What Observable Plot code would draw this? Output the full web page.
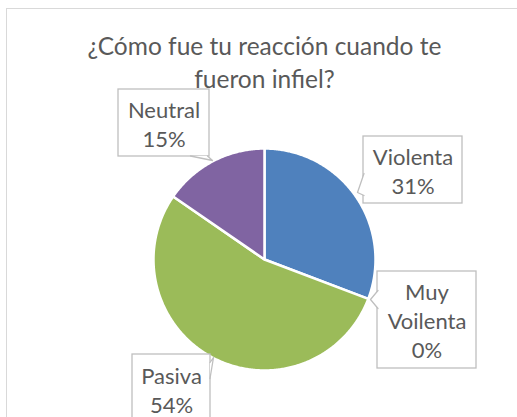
<!DOCTYPE html>
<html>
<head>
<meta charset="utf-8">
<script src="https://cdn.jsdelivr.net/npm/d3@7"></script>
<script src="https://cdn.jsdelivr.net/npm/@observablehq/plot@0.6"></script>
<style>
  html, body { margin: 0; padding: 0; background: #fff; overflow: hidden; }
</style>
</head>
<body>
<div id="chart"></div>
<script>
// ---- data ----
const categories = ["Violenta", "Muy Voilenta", "Pasiva", "Neutral"];
const counts = [4, 0, 7, 2];
const colors = ["#4F81BD", "#C0504D", "#9BBB59", "#8064A2"];
const titleLines = ["¿Cómo fue tu reacción cuando te", "fueron infiel?"];

// ---- layout (pixels) ----
const W = 517, H = 417;
const pieLayout = {cx: 264, cy: 259, r: 111};
const labelBoxes = [
  {x1: 363, x2: 462, y1: 136, y2: 203, tail: {side: "left", a: 173, b: 195, tx: 357, ty: 192}},
  {x1: 377, x2: 476, y1: 271, y2: 368, tail: {side: "left", a: 290, b: 308, tx: 370, ty: 299}},
  {x1: 132, x2: 210, y1: 354, y2: 424, tail: {side: "right", a: 362, b: 378, tx: 213, ty: 357}},
  {x1: 118, x2: 209, y1: 89, y2: 156, tail: {side: "bottom", a: 190, b: 207, tx: 212, ty: 160}}
];
const titleY = [47, 80];

const total = d3.sum(counts);
const pieGen = d3.pie().sort(null).value(d => d.value);
const arcs = pieGen(categories.map((c, i) => ({cat: c, value: counts[i]})));

// slice polygons in pixel space
const slicePts = [];
for (const a of arcs) {
  if (a.endAngle - a.startAngle <= 0) continue;
  const cat = a.data.cat;
  slicePts.push({cat, x: pieLayout.cx, y: pieLayout.cy});
  const n = Math.max(2, Math.ceil((a.endAngle - a.startAngle) / 0.01));
  for (let k = 0; k <= n; k++) {
    const t = a.startAngle + (a.endAngle - a.startAngle) * k / n;
    slicePts.push({cat, x: pieLayout.cx + pieLayout.r * Math.sin(t), y: pieLayout.cy - pieLayout.r * Math.cos(t)});
  }
  slicePts.push({cat, x: pieLayout.cx, y: pieLayout.cy});
}

const labels = categories.map((c, i) => ({
  text: c.split(" ").join("\n") + "\n" + Math.round(counts[i] / total * 100) + "%",
  x: (labelBoxes[i].x1 + labelBoxes[i].x2) / 2,
  y: (labelBoxes[i].y1 + labelBoxes[i].y2) / 2
}));

// callout tails
const tails = [];
labelBoxes.forEach((b, i) => {
  const t = b.tail;
  let p;
  if (t.side === "left") p = [[b.x1 + 0.5, t.a], [t.tx, t.ty], [b.x1 + 0.5, t.b]];
  else if (t.side === "right") p = [[b.x2 - 0.5, t.b], [t.tx, t.ty], [b.x2 - 0.5, t.a]];
  else p = [[t.a, b.y2 - 0.5], [t.tx, t.ty], [t.b, b.y2 - 0.5]];
  p.forEach(([x, y]) => tails.push({id: i, x, y}));
});

const chart = Plot.plot({
  width: W,
  height: H,
  margin: 0,
  x: {domain: [0, W], range: [0, W], axis: null},
  y: {domain: [0, H], range: [0, H], axis: null},
  color: {domain: categories, range: colors},
  style: {fontFamily: "Lato, 'Open Sans', sans-serif", color: "#595959", background: "#fff"},
  marks: [
    // chart area border
    Plot.rect([{}], {x1: 6.5, y1: 8.5, x2: W + 20, y2: H + 20, fill: "white", stroke: "#D9D9D9", strokeWidth: 1}),
    // pie slices
    Plot.line(slicePts, {x: "x", y: "y", z: "cat", fill: "cat", stroke: "white", strokeWidth: 2.5, strokeLinejoin: "round", curve: "linear"}),
    // label boxes
    Plot.rect(labelBoxes, {x1: "x1", x2: "x2", y1: "y1", y2: "y2", fill: "white", stroke: "#BFBFBF", strokeWidth: 1.3}),
    Plot.line(tails, {x: "x", y: "y", z: "id", fill: "white", stroke: "#BFBFBF", strokeWidth: 1.3}),
    // label text
    Plot.text(labels, {x: "x", y: "y", text: "text", fontSize: 22, lineHeight: 1.32, fill: "#595959"}),
    // title
    Plot.text(titleLines, {x: () => 264, y: (d, i) => titleY[i], text: d => d, fontSize: 24.5, fill: "#595959"})
  ]
});
document.getElementById("chart").appendChild(chart);
</script>
</body>
</html>
